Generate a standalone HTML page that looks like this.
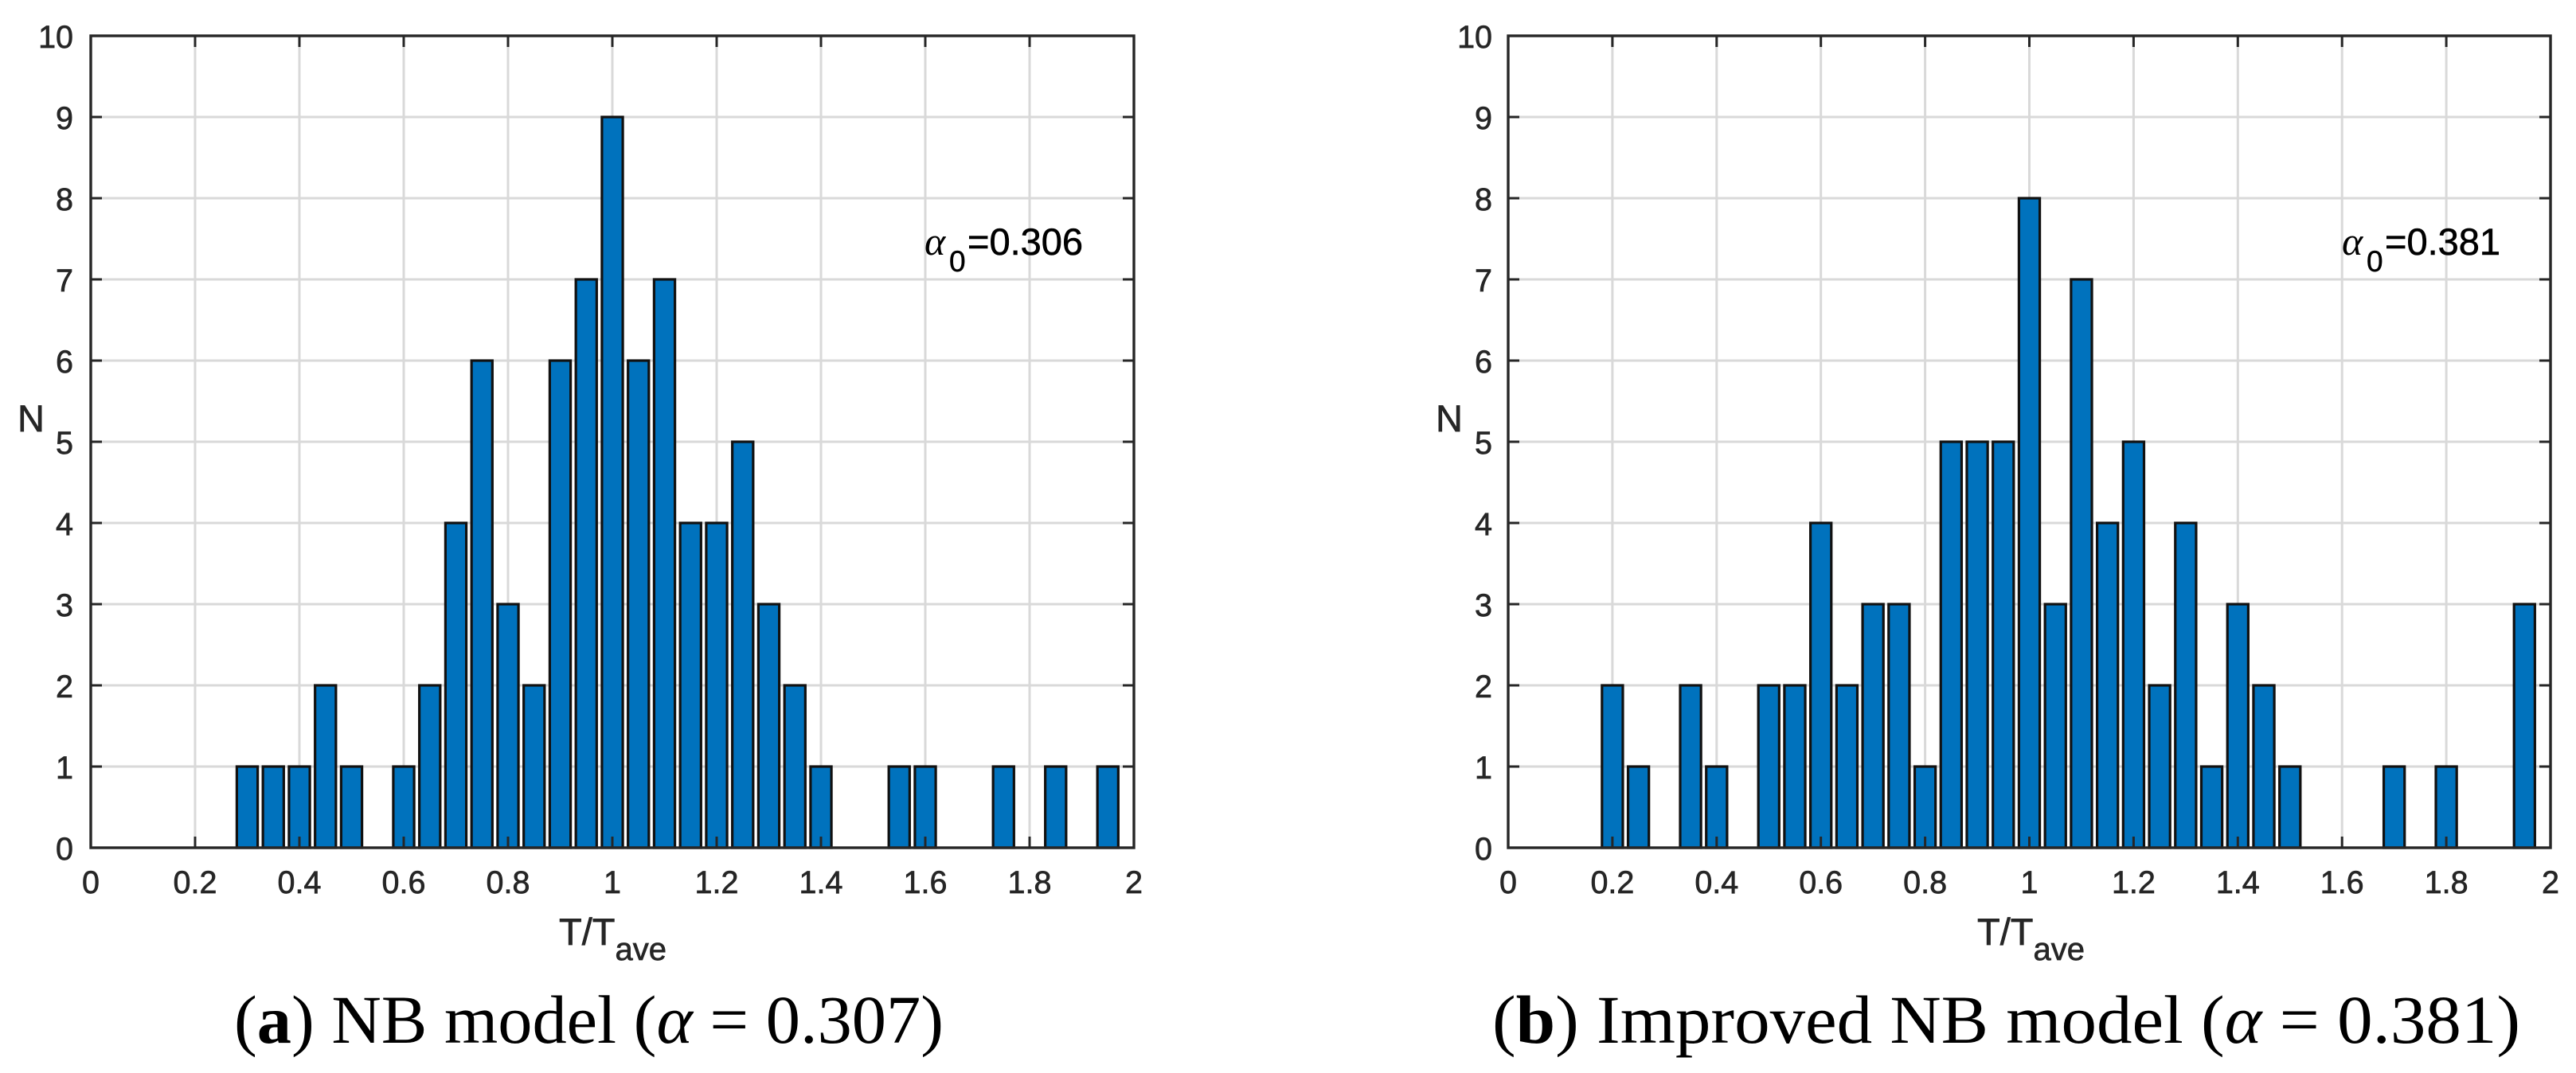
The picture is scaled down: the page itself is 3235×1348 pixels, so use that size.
<!DOCTYPE html>
<html lang="en">
<head>
<meta charset="utf-8">
<title>T/Tave histograms</title>
<style>
html,body{margin:0;padding:0;background:#fff;}
svg{display:block;}
text{font-family:"Liberation Sans",sans-serif;}
.caption{font-family:"Liberation Serif",serif;font-size:86px;fill:#000;}
.tick{font-size:39.5px;fill:#262626;stroke:#262626;stroke-width:0.7px;}
.label{font-size:47px;fill:#262626;stroke:#262626;stroke-width:0.7px;}
.sub{font-size:40px;fill:#262626;}
.note{font-size:47px;fill:#000;stroke:#000;stroke-width:0.6px;}
.greek{font-family:"Liberation Serif",serif;font-style:italic;font-size:50px;fill:#000;}
.note-sub{font-size:37px;fill:#000;stroke:#000;stroke-width:0.5px;}
</style>
</head>
<body>
<svg id="figure" xmlns="http://www.w3.org/2000/svg" width="3235" height="1348" viewBox="0 0 3235 1348">
  <rect width="3235" height="1348" fill="#fff"/>

  <g id="panel-a"></g>
  <g id="panel-b"></g>

  <text class="label" x="22" y="542">N</text>
  <text class="label" x="702" y="1187">T/T<tspan class="sub" dy="19">ave</tspan></text>
  <g>
    <text class="greek" x="1161" y="320">α</text>
    <text class="note-sub" x="1192" y="341">0</text>
    <text class="note" x="1215" y="320">=0.306</text>
  </g>
  <text class="caption" x="294" y="1310" textLength="891" lengthAdjust="spacingAndGlyphs">(<tspan font-weight="bold">a</tspan>) NB model (<tspan font-style="italic">α</tspan> = 0.307)</text>

  <text class="label" x="1803" y="542">N</text>
  <text class="label" x="2483" y="1187">T/T<tspan class="sub" dy="19">ave</tspan></text>
  <g>
    <text class="greek" x="2941" y="320">α</text>
    <text class="note-sub" x="2972" y="341">0</text>
    <text class="note" x="2995" y="320">=0.381</text>
  </g>
  <text class="caption" x="1874" y="1310" textLength="1291" lengthAdjust="spacingAndGlyphs">(<tspan font-weight="bold">b</tspan>) Improved NB model (<tspan font-style="italic">α</tspan> = 0.381)</text>
</svg>
<script>
const xTickValues = [0, 0.2, 0.4, 0.6, 0.8, 1, 1.2, 1.4, 1.6, 1.8, 2];
const xTickLabels = ['0', '0.2', '0.4', '0.6', '0.8', '1', '1.2', '1.4', '1.6', '1.8', '2'];
const yTickValues = [0, 1, 2, 3, 4, 5, 6, 7, 8, 9, 10];
const yTickLabels = ['0', '1', '2', '3', '4', '5', '6', '7', '8', '9', '10'];

const binsA = [0.3, 0.35, 0.4, 0.45, 0.5, 0.6, 0.65, 0.7, 0.75, 0.8, 0.85, 0.9, 0.95, 1, 1.05, 1.1, 1.15, 1.2, 1.25, 1.3, 1.35, 1.4, 1.55, 1.6, 1.75, 1.85, 1.95];
const countsA = [1, 1, 1, 2, 1, 1, 2, 4, 6, 3, 2, 6, 7, 9, 6, 7, 4, 4, 5, 3, 2, 1, 1, 1, 1, 1, 1];

const binsB = [0.2, 0.25, 0.35, 0.4, 0.5, 0.55, 0.6, 0.65, 0.7, 0.75, 0.8, 0.85, 0.9, 0.95, 1, 1.05, 1.1, 1.15, 1.2, 1.25, 1.3, 1.35, 1.4, 1.45, 1.5, 1.7, 1.8, 1.95];
const countsB = [2, 1, 2, 1, 2, 2, 4, 2, 3, 3, 1, 5, 5, 5, 8, 3, 7, 4, 5, 2, 4, 1, 3, 2, 1, 1, 1, 3];

const NS = 'http://www.w3.org/2000/svg';
const BAR_DATA_WIDTH = 0.04;

function make(tag, attrs, parent) {
  const el = document.createElementNS(NS, tag);
  for (const k in attrs) el.setAttribute(k, attrs[k]);
  parent.appendChild(el);
  return el;
}

function drawPanel(root, prefix, box, bins, counts, labelRight) {
  const xScale = v => box.left + (v / 2) * (box.right - box.left);
  const yScale = v => box.bottom - (v / 10) * (box.bottom - box.top);

  xTickValues.forEach(v => {
    const line = make('line', {x1: xScale(v), x2: xScale(v), y1: box.top, y2: box.bottom, stroke: '#d9d9d9', 'stroke-width': 3}, root);
    
    
  });
  yTickValues.forEach(v => {
    const line = make('line', {x1: box.left, x2: box.right, y1: yScale(v), y2: yScale(v), stroke: '#d9d9d9', 'stroke-width': 3}, root);
    
    
  });

  bins.forEach((b, i) => {
    const x0 = xScale(b - BAR_DATA_WIDTH / 2);
    const x1 = xScale(b + BAR_DATA_WIDTH / 2);
    const rect = make('rect', {x: x0, y: yScale(counts[i]), width: x1 - x0, height: yScale(0) - yScale(counts[i]), fill: '#0072bd', stroke: '#111', 'stroke-width': 3.2}, root);
    
    
  });

  const frame = make('rect', {x: box.left, y: box.top, width: box.right - box.left, height: box.bottom - box.top, fill: 'none', stroke: '#262626', 'stroke-width': 3.4}, root);
  
  

  const TICK = 14;
  xTickValues.forEach((v, i) => {
    const x = xScale(v);
    const t1 = make('line', {x1: x, x2: x, y1: box.bottom, y2: box.bottom - TICK, stroke: '#262626', 'stroke-width': 3}, root);
    
    
    const t2 = make('line', {x1: x, x2: x, y1: box.top, y2: box.top + TICK, stroke: '#262626', 'stroke-width': 3}, root);
    
    
    const label = make('text', {x: x, y: 1122, 'text-anchor': 'middle', class: 'tick'}, root);
    label.textContent = xTickLabels[i];
    
    
  });
  yTickValues.forEach((v, i) => {
    const y = yScale(v);
    const t1 = make('line', {x1: box.left, x2: box.left + TICK, y1: y, y2: y, stroke: '#262626', 'stroke-width': 3}, root);
    
    
    const t2 = make('line', {x1: box.right, x2: box.right - TICK, y1: y, y2: y, stroke: '#262626', 'stroke-width': 3}, root);
    
    
    const label = make('text', {x: labelRight, y: y + 15, 'text-anchor': 'end', class: 'tick'}, root);
    label.textContent = yTickLabels[i];
    
    
  });
}

drawPanel(document.getElementById('panel-a'), 'panel-a', {left: 114, right: 1424, top: 45, bottom: 1065}, binsA, countsA, 92);
drawPanel(document.getElementById('panel-b'), 'panel-b', {left: 1894, right: 3203, top: 45, bottom: 1065}, binsB, countsB, 1874);
</script>
</body>
</html>
